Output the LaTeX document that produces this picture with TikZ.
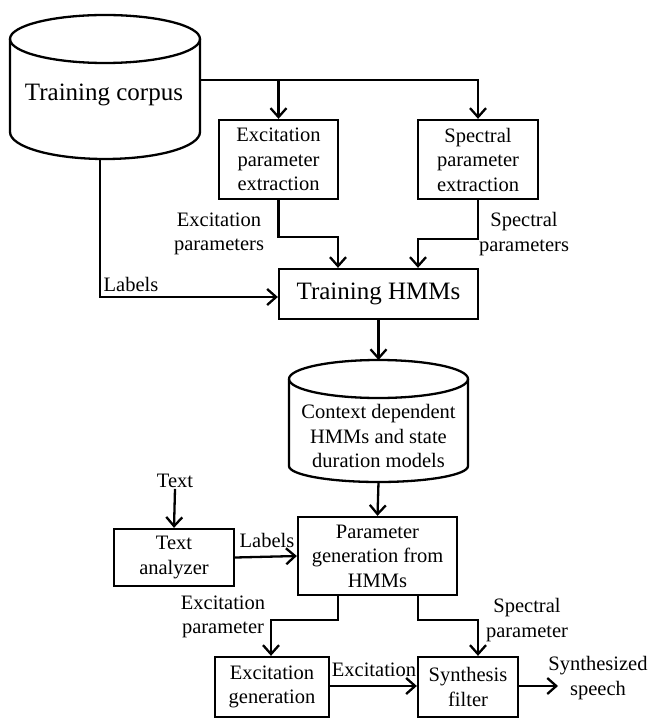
\documentclass[tikz,border=0pt]{standalone}
\usepackage{fontspec}
\setmainfont{Liberation Serif}
\usetikzlibrary{arrows.meta}
\begin{document}
\begin{tikzpicture}[x=1pt,y=-1pt,line width=2.3pt,
  box/.style={draw,rectangle,inner sep=0pt,align=center,font=\fontsize{20.5}{24.5}\selectfont},
  lbl/.style={align=center,inner sep=0pt,font=\fontsize{20.5}{24.5}\selectfont},
  big/.style={font=\fontsize{25}{30}\selectfont},
  arr/.style={-{Straight Barb[length=9pt,width=16pt,line width=2.3pt]}},
  cyl/.style={line width=2.3pt}]
\useasboundingbox (0,0) rectangle (649,719);

% Training corpus cylinder
\draw[cyl] (105,39) ellipse [x radius=95,y radius=24];
\draw[cyl] (10,39) -- (10,132) arc[start angle=180,end angle=0,x radius=95,y radius=27] -- (200,39);
\node[lbl,big] (corpus) at (104,95) {Training corpus};
\coordinate (corpusR) at (200,80);
\coordinate (corpusB) at (100,159);

% Boxes
\node[box,minimum width=119pt,minimum height=79pt] (exc) at (278.5,159.5) {Excitation\\parameter\\extraction};
\node[box,minimum width=120pt,minimum height=79pt] (spec) at (478,159.5) {Spectral\\parameter\\extraction};
\node[box,big,minimum width=199pt,minimum height=50pt] (hmm) at (378.5,294) {Training HMMs};

% Context cylinder
\draw[cyl] (378.5,379) ellipse [x radius=89.5,y radius=19];
\draw[cyl] (289,379) -- (289,466) arc[start angle=180,end angle=0,x radius=89.5,y radius=16] -- (468,379);
\node[lbl] (ctx) at (378.5,436) {Context dependent\\HMMs and state\\duration models};
\coordinate (ctxT) at (378.5,360);
\coordinate (ctxB) at (378.5,482);

\node[box,minimum width=159pt,minimum height=78pt] (pg) at (377.5,556) {Parameter\\generation from\\HMMs};
\node[box,minimum width=120pt,minimum height=57pt] (ta) at (174,557.5) {Text\\analyzer};
\node[box,minimum width=114pt,minimum height=60pt] (eg) at (272,687) {Excitation\\generation};
\node[box,minimum width=100pt,minimum height=60pt] (sf) at (468,687) {Synthesis\\filter};

% Labels
\node[lbl] (lexc) at (219,234) {Excitation\\parameters};
\node[lbl] (lspec) at (524,234) {Spectral\\parameters};
\node[lbl] (llab) at (131,284) {Labels};
\node[lbl] (ltext) at (175,481) {Text};
\node[lbl] (llab2) at (267,540) {Labels};
\node[lbl] (lexp) at (223,617) {Excitation\\parameter};
\node[lbl] (lspp) at (527,620) {Spectral\\parameter};
\node[lbl] (lex) at (374,670) {Excitation};
\node[lbl] (lss) at (598,678) {Synthesized\\speech};
\coordinate (out) at (558,686);

% Connectors
\draw[arr] (corpusR) -| (exc.north);
\draw[arr] (corpusR) -| (spec.north);
\draw[arr] (exc.south) |- (338,237) -- ([xshift=-40.5pt]hmm.north);
\draw[arr] (spec.south) |- (418,239) -- ([xshift=39.5pt]hmm.north);
\draw[arr] (corpusB) |- ([yshift=-3pt]hmm.west);
\draw[arr] (hmm.south) -- (ctxT);
\draw[arr] (ctxB) -- (pg.north);
\draw[arr] (ltext.south) -- (ta.north);
\draw[arr] (ta.east) -- (pg.west);
\draw[arr] ([xshift=-39.5pt]pg.south) |- (271,620) -- ([xshift=-1pt]eg.north);
\draw[arr] ([xshift=40.5pt]pg.south) |- (478,620) -- ([xshift=10pt]sf.north);
\draw[arr] ([yshift=1pt]eg.east) -- ([yshift=1pt]sf.west);
\draw[arr] ([yshift=1pt]sf.east) -- (out);
\end{tikzpicture}
\end{document}
